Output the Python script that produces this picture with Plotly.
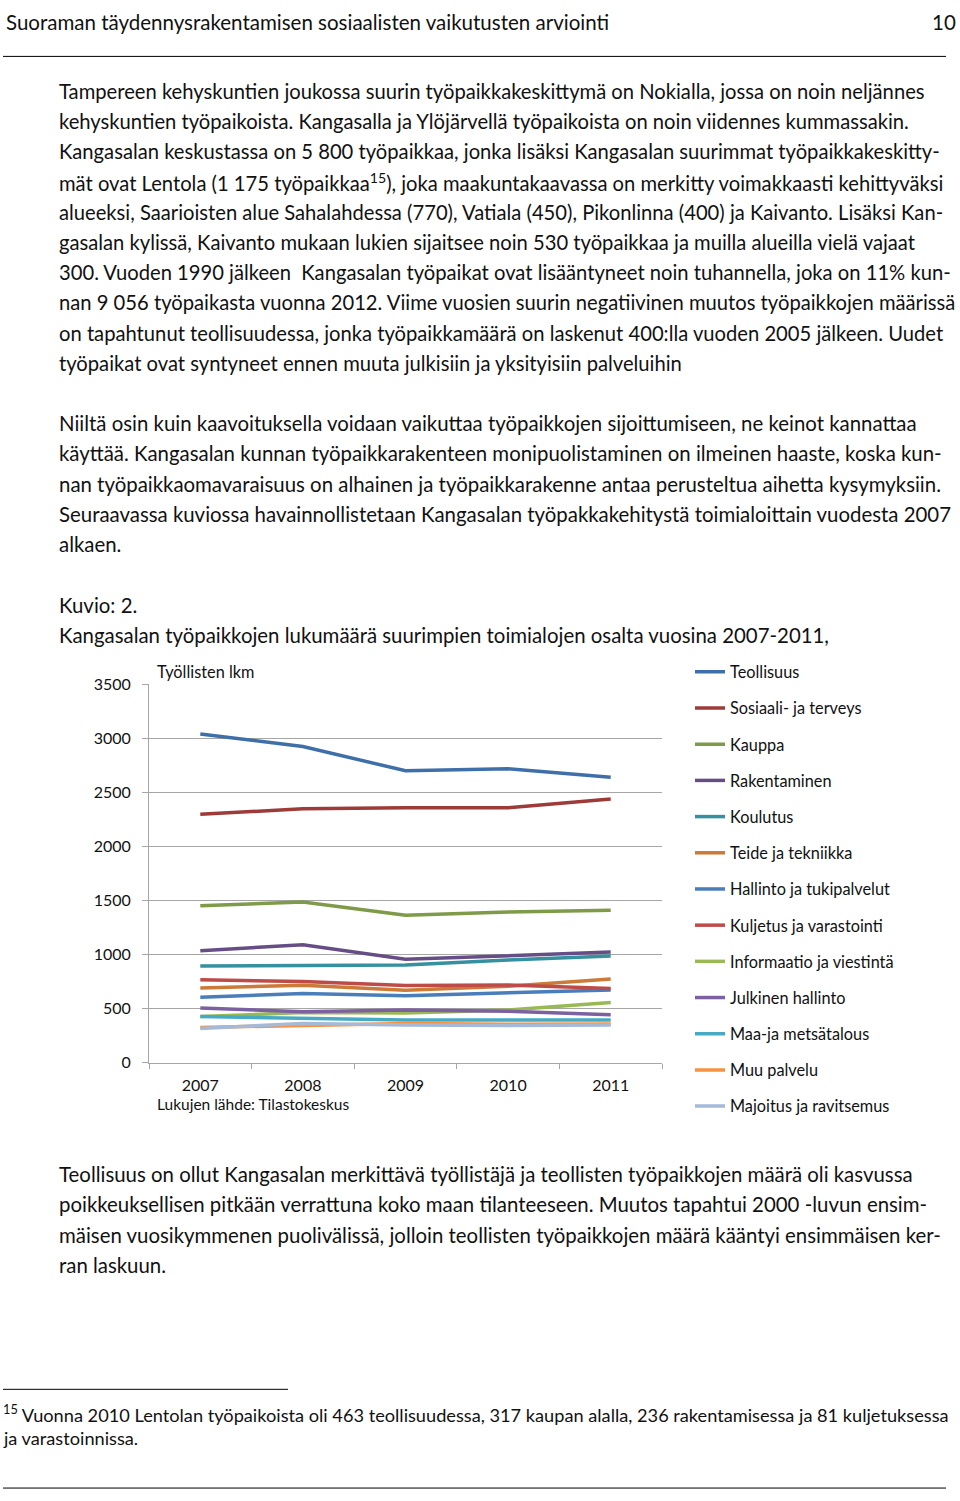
import plotly.graph_objects as go

W, H = 960, 1501
FONT = "Lato"
BODY = 20.4

years = ["2007", "2008", "2009", "2010", "2011"]
series_names = [
    "Teollisuus", "Sosiaali- ja terveys", "Kauppa", "Rakentaminen", "Koulutus",
    "Teide ja tekniikka", "Hallinto ja tukipalvelut", "Kuljetus ja varastointi",
    "Informaatio ja viestintä", "Julkinen hallinto", "Maa-ja metsätalous",
    "Muu palvelu", "Majoitus ja ravitsemus",
]
teollisuus = [3040, 2925, 2700, 2718, 2640]
sosiaali = [2297, 2348, 2357, 2357, 2440]
kauppa = [1450, 1485, 1362, 1392, 1410]
rakentaminen = [1035, 1090, 955, 985, 1022]
koulutus = [893, 900, 902, 948, 985]
teide = [690, 715, 668, 705, 773]
hallinto = [605, 638, 618, 645, 672]
kuljetus = [765, 750, 713, 718, 685]
informaatio = [425, 462, 458, 487, 555]
julkinen = [505, 470, 487, 475, 443]
maa = [425, 408, 393, 393, 393]
muu = [325, 340, 360, 355, 356]
majoitus = [315, 362, 348, 342, 346]
values = [teollisuus, sosiaali, kauppa, rakentaminen, koulutus, teide, hallinto,
          kuljetus, informaatio, julkinen, maa, muu, majoitus]
colors = ["#3F6FA8", "#9C3B38", "#7F9A48", "#664D85", "#35909F", "#CB7B37",
          "#4A7EBB", "#BE4B48", "#98B954", "#7D60A0", "#46AAC5", "#F69240", "#A5B9D9"]
y_ticks = [0, 500, 1000, 1500, 2000, 2500, 3000, 3500]

header = "Suoraman täydennysrakentamisen sosiaalisten vaikutusten arviointi"
page_no = "10"
para1 = [
    "Tampereen kehyskuntien joukossa suurin työpaikkakeskittymä on Nokialla, jossa on noin neljännes",
    "kehyskuntien työpaikoista. Kangasalla ja Ylöjärvellä työpaikoista on noin viidennes kummassakin.",
    "Kangasalan keskustassa on 5 800 työpaikkaa, jonka lisäksi Kangasalan suurimmat työpaikkakeskitty-",
    "mät ovat Lentola (1 175 työpaikkaa<sup>15</sup>), joka maakuntakaavassa on merkitty voimakkaasti kehittyväksi",
    "alueeksi, Saarioisten alue Sahalahdessa (770), Vatiala (450), Pikonlinna (400) ja Kaivanto. Lisäksi Kan-",
    "gasalan kylissä, Kaivanto mukaan lukien sijaitsee noin 530 työpaikkaa ja muilla alueilla vielä vajaat",
    "300. Vuoden 1990 jälkeen  Kangasalan työpaikat ovat lisääntyneet noin tuhannella, joka on 11% kun-",
    "nan 9 056 työpaikasta vuonna 2012. Viime vuosien suurin negatiivinen muutos työpaikkojen määrissä",
    "on tapahtunut teollisuudessa, jonka työpaikkamäärä on laskenut 400:lla vuoden 2005 jälkeen. Uudet",
    "työpaikat ovat syntyneet ennen muuta julkisiin ja yksityisiin palveluihin",
]
para2 = [
    "Niiltä osin kuin kaavoituksella voidaan vaikuttaa työpaikkojen sijoittumiseen, ne keinot kannattaa",
    "käyttää. Kangasalan kunnan työpaikkarakenteen monipuolistaminen on ilmeinen haaste, koska kun-",
    "nan työpaikkaomavaraisuus on alhainen ja työpaikkarakenne antaa perusteltua aihetta kysymyksiin.",
    "Seuraavassa kuviossa havainnollistetaan Kangasalan työpakkakehitystä toimialoittain vuodesta 2007",
    "alkaen.",
]
caption = ["Kuvio: 2.",
           "Kangasalan työpaikkojen lukumäärä suurimpien toimialojen osalta vuosina 2007-2011,"]
para3 = [
    "Teollisuus on ollut Kangasalan merkittävä työllistäjä ja teollisten työpaikkojen määrä oli kasvussa",
    "poikkeuksellisen pitkään verrattuna koko maan tilanteeseen. Muutos tapahtui 2000 -luvun ensim-",
    "mäisen vuosikymmenen puolivälissä, jolloin teollisten työpaikkojen määrä kääntyi ensimmäisen ker-",
    "ran laskuun.",
]
footnote = [
    "<sup>15</sup> Vuonna 2010 Lentolan työpaikoista oli 463 teollisuudessa, 317 kaupan alalla, 236 rakentamisessa ja 81 kuljetuksessa",
    "ja varastoinnissa.",
]
y_title = "Työllisten lkm"
source = "Lukujen lähde: Tilastokeskus"


def px(x):
    return x / W


def py(y):
    return 1 - y / H


fig = go.Figure()
for name, vals, col in zip(series_names, values, colors):
    fig.add_trace(go.Scatter(x=years, y=vals, name=name, mode="lines",
                             legendgroup=name,
                             line=dict(color=col, width=3.5)))

annotations = []


def add_text(x, y, text, size=BODY, anchor="left", color="#111"):
    annotations.append(dict(x=px(x), y=py(y), xref="paper", yref="paper",
                            text=text, showarrow=False, xanchor=anchor,
                            yanchor="middle", font=dict(family=FONT, size=size, color=color)))


add_text(4, 12, header, 20.5)
add_text(958, 12, page_no, 20.5, anchor="right")
for i, t in enumerate(para1):
    add_text(57, 82 + i * 30.6, t, BODY - 0.2)
for i, t in enumerate(para2):
    add_text(57, 418.5 + i * 30.6, t)
for i, t in enumerate(caption):
    add_text(57, 603 + i * 30.5, t)
for i, t in enumerate(para3):
    add_text(57, 1179 + i * 30.6, t)
add_text(1, 1421, footnote[0], 18.2)
add_text(1, 1446, footnote[1], 18.2)
add_text(155, 670, y_title, 16.3)
add_text(155, 1108, source, 15.5)

shapes = [
    dict(type="line", xref="paper", yref="paper", x0=px(3), x1=px(946), y0=py(47), y1=py(47),
         line=dict(color="#000", width=1)),
    dict(type="line", xref="paper", yref="paper", x0=px(3), x1=px(288), y0=py(1397), y1=py(1397),
         line=dict(color="#000", width=1)),
    dict(type="line", xref="paper", yref="paper", x0=px(3), x1=px(946), y0=py(1497), y1=py(1497),
         line=dict(color="#000", width=1)),
]

fig.update_layout(
    width=W, height=H,
    margin=dict(l=0, r=0, t=0, b=0),
    paper_bgcolor="white", plot_bgcolor="white",
    font=dict(family=FONT, color="#111"),
    annotations=annotations,
    shapes=shapes,
    showlegend=True,
    legend=dict(x=px(690), y=py(653), xanchor="left", yanchor="top",
                font=dict(family=FONT, size=16.3, color="#111"),
                tracegroupgap=12, bgcolor="rgba(0,0,0,0)",
                itemwidth=30),
    xaxis=dict(domain=[px(149), px(662)], type="category", range=[-0.5, 4.5],
               showgrid=False, showline=True, linecolor="#A6A6A6", linewidth=1,
               ticks="outside", tickson="boundaries", ticklen=5, tickcolor="#A6A6A6",
               ticklabelstandoff=8,
               tickfont=dict(family=FONT, size=16, color="#111"), anchor="y"),
    yaxis=dict(domain=[py(1066), py(683)], range=[0, 3500], tickvals=y_ticks,
               showgrid=True, gridcolor="#A6A6A6", gridwidth=1, zeroline=False,
               showline=True, linecolor="#A6A6A6", linewidth=1,
               ticks="outside", ticklen=6, tickcolor="#A6A6A6",
               ticklabelstandoff=8,
               tickfont=dict(family=FONT, size=16, color="#111"), anchor="x"),
)

post = ("document.documentElement.style.margin='0';document.body.style.margin='0';"
        "document.body.style.overflow='hidden';"
        "var d=document.getElementById('{plot_id}');"
        "d.style.position='fixed';d.style.top='0px';d.style.left='0px';")
fig.write_html("out.html", config={"displayModeBar": False}, post_script=post)
